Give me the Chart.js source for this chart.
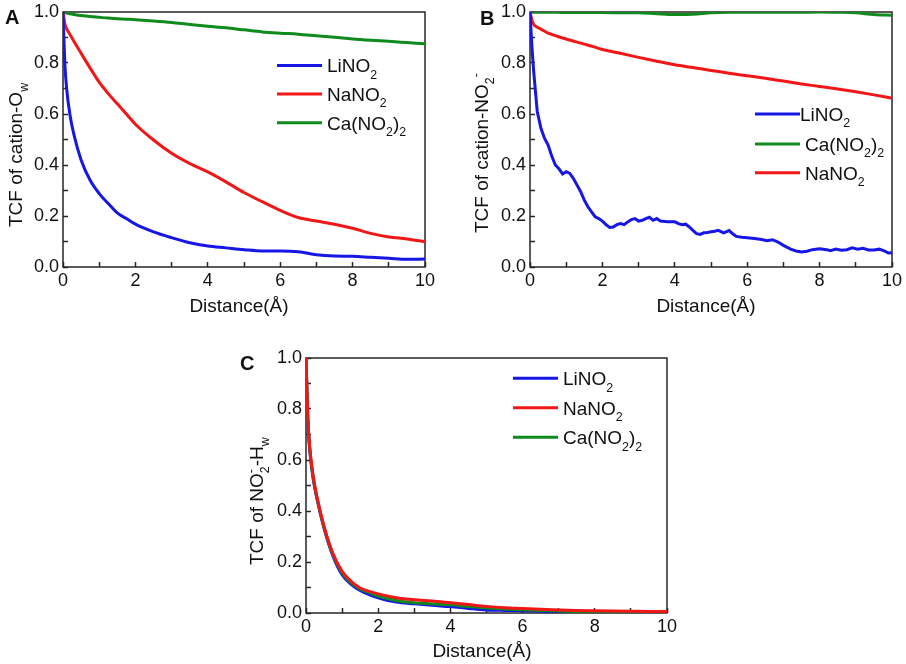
<!DOCTYPE html>
<html><head><meta charset="utf-8">
<script src="https://cdn.jsdelivr.net/npm/chart.js"></script>
<style>
html,body{margin:0;padding:0;background:#fff;width:906px;height:664px;overflow:hidden}
canvas{position:absolute}
</style></head><body>
<canvas id="cA" width="453" height="330" style="left:0;top:0"></canvas>
<canvas id="cB" width="453" height="330" style="left:453px;top:0"></canvas>
<canvas id="cC" width="470" height="334" style="left:220px;top:330px"></canvas>
<script>
// ---------- data ----------
const distance = [0, 0.05, 0.1, 0.2, 0.3, 0.5, 0.75, 1, 1.25, 1.5, 1.75, 2, 2.5, 3, 3.5, 4, 4.5, 5, 5.5, 6, 6.5, 7, 7.5, 8, 8.5, 9, 9.5, 10];

const seriesNamesA = ['LiNO₂', 'NaNO₂', 'Ca(NO₂)₂'];
const seriesNamesB = ['LiNO₂', 'Ca(NO₂)₂', 'NaNO₂'];
const seriesNamesC = ['LiNO₂', 'NaNO₂', 'Ca(NO₂)₂'];

const tcfA_LiNO2 = [1.0, 0.80, 0.70, 0.59, 0.52, 0.42, 0.34, 0.288, 0.249, 0.212, 0.19, 0.168, 0.138, 0.115, 0.095, 0.082, 0.075, 0.068, 0.063, 0.063, 0.06, 0.048, 0.043, 0.042, 0.038, 0.034, 0.030, 0.031];
const tcfA_NaNO2 = [1.0, 0.955, 0.935, 0.91, 0.885, 0.838, 0.78, 0.725, 0.68, 0.64, 0.60, 0.56, 0.498, 0.446, 0.406, 0.373, 0.334, 0.292, 0.256, 0.222, 0.194, 0.18, 0.168, 0.152, 0.132, 0.118, 0.110, 0.099];
const tcfA_CaNO22 = [1.0, 0.998, 0.996, 0.993, 0.99, 0.986, 0.982, 0.979, 0.976, 0.974, 0.972, 0.97, 0.965, 0.959, 0.951, 0.944, 0.938, 0.930, 0.922, 0.917, 0.913, 0.907, 0.901, 0.894, 0.889, 0.885, 0.880, 0.875];

const distB_LiNO2 = [0, 0.05, 0.1, 0.15, 0.2, 0.3, 0.4, 0.5, 0.6, 0.7, 0.8, 0.9, 1.0, 1.1, 1.2, 1.3, 1.4, 1.5, 1.6, 1.7, 1.8, 1.9, 2.0, 2.1, 2.2, 2.3, 2.4, 2.5, 2.6, 2.7, 2.8, 2.9, 3.0, 3.1, 3.2, 3.3, 3.4, 3.5, 3.6, 3.8, 4.0, 4.1, 4.2, 4.3, 4.4, 4.5, 4.6, 4.7, 4.8, 4.9, 5.0, 5.1, 5.2, 5.35, 5.5, 5.6, 5.7, 5.85, 6.0, 6.2, 6.4, 6.55, 6.7, 6.85, 7.0, 7.2, 7.35, 7.5, 7.65, 7.8, 8.0, 8.2, 8.3, 8.45, 8.6, 8.75, 8.9, 9.05, 9.2, 9.35, 9.5, 9.65, 9.8, 9.9, 10];
const tcfB_LiNO2 = [1.0, 0.87, 0.77, 0.69, 0.61, 0.545, 0.505, 0.478, 0.435, 0.40, 0.385, 0.365, 0.374, 0.367, 0.347, 0.321, 0.295, 0.262, 0.236, 0.216, 0.197, 0.19, 0.18, 0.166, 0.155, 0.157, 0.166, 0.17, 0.166, 0.177, 0.186, 0.19, 0.18, 0.183, 0.19, 0.195, 0.183, 0.19, 0.18, 0.177, 0.177, 0.17, 0.166, 0.168, 0.157, 0.144, 0.131, 0.128, 0.134, 0.135, 0.138, 0.14, 0.144, 0.134, 0.143, 0.13, 0.12, 0.117, 0.115, 0.112, 0.108, 0.103, 0.107, 0.098, 0.085, 0.070, 0.063, 0.059, 0.062, 0.068, 0.072, 0.068, 0.064, 0.07, 0.066, 0.068, 0.075, 0.07, 0.073, 0.067, 0.067, 0.07, 0.062, 0.055, 0.056];
const tcfB_CaNO22 = [1.0, 1.0, 0.999, 0.999, 0.999, 0.999, 0.999, 0.998, 0.998, 0.998, 0.998, 0.998, 0.997, 0.997, 0.993, 0.99, 0.991, 0.997, 0.999, 0.999, 0.999, 0.999, 0.999, 1.0, 0.999, 0.997, 0.99, 0.987];
const tcfB_NaNO2 = [1.0, 0.97, 0.952, 0.94, 0.933, 0.917, 0.905, 0.894, 0.884, 0.874, 0.864, 0.853, 0.838, 0.822, 0.807, 0.793, 0.782, 0.771, 0.760, 0.750, 0.740, 0.729, 0.718, 0.708, 0.698, 0.687, 0.675, 0.662];

const tcfC_LiNO2 = [1.0, 0.76, 0.645, 0.525, 0.45, 0.332, 0.222, 0.15, 0.112, 0.088, 0.072, 0.06, 0.043, 0.036, 0.03, 0.025, 0.018, 0.012, 0.01, 0.009, 0.007, 0.005, 0.004, 0.004, 0.003, 0.003, 0.003, 0.003];
const tcfC_NaNO2 = [1.0, 0.77, 0.654, 0.536, 0.458, 0.34, 0.232, 0.163, 0.124, 0.098, 0.085, 0.075, 0.06, 0.052, 0.047, 0.04, 0.033, 0.026, 0.021, 0.018, 0.015, 0.012, 0.01, 0.009, 0.008, 0.007, 0.006, 0.006];
const tcfC_CaNO22 = [1.0, 0.765, 0.65, 0.53, 0.455, 0.336, 0.228, 0.157, 0.118, 0.094, 0.08, 0.066, 0.049, 0.04, 0.036, 0.032, 0.025, 0.02, 0.016, 0.013, 0.01, 0.008, 0.006, 0.005, 0.005, 0.004, 0.004, 0.004];

const xTickValues = [0, 2, 4, 6, 8, 10];
const xTickLabels = ['0', '2', '4', '6', '8', '10'];
const yTickValues = [0, 0.2, 0.4, 0.6, 0.8, 1.0];
const yTickLabels = ['0.0', '0.2', '0.4', '0.6', '0.8', '1.0'];
const xAxisTitle = 'Distance(Å)';
// rich text segments: [text, kind] kind: n normal, b subscript, p superscript, bs subscript stacked with next
const yTitleA = [['TCF of cation-O', 'n'], ['w', 'b']];
const yTitleB = [['TCF of cation-NO', 'n'], ['2', 'b'], ['-', 'p']];
const yTitleC = [['TCF of NO', 'n'], ['2', 'bs'], ['-', 'p'], ['-H', 'n'], ['w', 'b']];

// ---------- styling ----------
const FONT = '"Liberation Sans", Arial, Helvetica, sans-serif';
const AXIS = '#262626';
const BLUE = '#1616e6', RED = '#f21616', GREEN = '#0f8a1c';

function pts(xs, ys) { return xs.map((x, i) => ({x: x, y: ys[i]})); }
function labelSegs(s) {
  const out = [];
  for (const ch of s) {
    if (ch === '₂') out.push(['2', 'b']); else {
      if (out.length && out[out.length - 1][1] === 'n') out[out.length - 1][0] += ch; else out.push([ch, 'n']);
    }
  }
  return out;
}
function drawRich(ctx, segs, x, y, size, measureOnly) {
  let cx = x, stackW = null;
  for (const s of segs) {
    const k = s[1];
    const small = k !== 'n';
    const fs = small ? size * 0.65 : size;
    ctx.font = fs + 'px ' + FONT;
    const dy = (k === 'b' || k === 'bs') ? size * 0.34 : (k === 'p' ? -size * 0.40 : 0);
    const w = ctx.measureText(s[0]).width;
    if (!measureOnly) ctx.fillText(s[0], cx, y + dy);
    if (k === 'bs') { stackW = w; continue; }
    if (stackW !== null) { cx += Math.max(stackW, w); stackW = null; } else cx += w;
  }
  return cx - x;
}

function makeChart(id, spec) {
  const g = spec.geom;
  const decor = {
    id: 'decor_' + id,
    beforeDatasetsDraw(chart) {
      const {ctx, chartArea: a} = chart;
      ctx.save();
      ctx.strokeStyle = AXIS; ctx.lineWidth = 1.5;
      ctx.strokeRect(a.left, a.top, a.right - a.left, a.bottom - a.top);
      ctx.restore();
    },
    afterDraw(chart) {
      const ctx = chart.ctx;
      ctx.save();
      ctx.fillStyle = '#111';
      ctx.textAlign = 'left'; ctx.textBaseline = 'alphabetic';
      // legend
      const L = spec.legend;
      spec.datasets.forEach((d, i) => {
        const y = L.ys[i];
        ctx.strokeStyle = d.color; ctx.lineWidth = 3;
        ctx.beginPath(); ctx.moveTo(L.x1, y); ctx.lineTo(L.x2, y); ctx.stroke();
        ctx.fillStyle = '#111';
        drawRich(ctx, labelSegs(d.label), L.tx[i], y + 19 * 0.36, 19);
      });
      // y title (rotated)
      ctx.save();
      ctx.translate(spec.ytitle.bx, spec.ytitle.y0);
      ctx.rotate(-Math.PI / 2);
      drawRich(ctx, spec.ytitle.segs, 0, 0, 19);
      ctx.restore();
      // x title
      ctx.font = '19px ' + FONT;
      ctx.textAlign = 'center';
      ctx.fillText(xAxisTitle, spec.xtitle.cx, spec.xtitle.by);
      // panel letter
      ctx.font = 'bold 20px ' + FONT;
      ctx.textAlign = 'left';
      ctx.fillText(spec.letter.t, spec.letter.x, spec.letter.y);
      ctx.restore();
    }
  };
  const fit = (dim, val) => (s) => { s[dim] = val; s.paddingLeft = 0; s.paddingRight = 0; s.paddingTop = 0; s.paddingBottom = 0; };
  const gridOpts = { drawOnChartArea: false, drawTicks: true, tickLength: -5, tickWidth: 1.5, tickColor: AXIS };
  return new Chart(document.getElementById(id), {
    type: 'line',
    data: {
      datasets: spec.datasets.map(d => ({
        label: d.label, data: d.data, borderColor: d.color, backgroundColor: d.color,
        borderWidth: 3, pointRadius: 0, fill: false, order: d.order,
        tension: d.jagged ? 0 : 0.4, cubicInterpolationMode: d.jagged ? 'default' : 'monotone'
      }))
    },
    options: {
      responsive: false, animation: false, events: [],
      layout: { padding: { left: 0, bottom: 0, top: g.padTop, right: g.padRight } },
      plugins: { legend: { display: false }, tooltip: { enabled: false }, title: { display: false } },
      scales: {
        x: {
          type: 'linear', min: 0, max: 10,
          ticks: { stepSize: 1, autoSkip: false, maxRotation: 0, padding: 8, color: '#111',
            font: { family: FONT, size: 18 },
            callback: (v) => { const i = xTickValues.findIndex(t => Math.abs(t - v) < 1e-6); return i >= 0 ? xTickLabels[i] : ''; } },
          grid: gridOpts, border: { display: false }, afterFit: fit('height', g.xH)
        },
        y: {
          type: 'linear', min: 0, max: 1,
          ticks: { stepSize: 0.1, autoSkip: false, padding: 9, color: '#111',
            font: { family: FONT, size: 18 },
            callback: (v) => { const i = yTickValues.findIndex(t => Math.abs(t - v) < 1e-6); return i >= 0 ? yTickLabels[i] : ''; } },
          grid: gridOpts, border: { display: false }, afterFit: fit('width', g.yW)
        }
      }
    },
    plugins: [decor]
  });
}

makeChart('cA', {
  geom: { yW: 63, xH: 63, padTop: 12, padRight: 28 },
  datasets: [
    { label: seriesNamesA[0], data: pts(distance, tcfA_LiNO2), color: BLUE, order: 0 },
    { label: seriesNamesA[1], data: pts(distance, tcfA_NaNO2), color: RED, order: 1 },
    { label: seriesNamesA[2], data: pts(distance, tcfA_CaNO22), color: GREEN, order: 2 }
  ],
  legend: { x1: 277, x2: 322, tx: [327, 327, 327], ys: [65.5, 94, 122.7] },
  ytitle: { bx: 21.5, y0: 227, segs: yTitleA },
  xtitle: { cx: 239, by: 311.5 },
  letter: { t: 'A', x: 5, y: 24 }
});

makeChart('cB', {
  geom: { yW: 77, xH: 63, padTop: 12, padRight: 14 },
  datasets: [
    { label: seriesNamesB[0], data: pts(distB_LiNO2, tcfB_LiNO2), color: BLUE, order: 0, jagged: true },
    { label: seriesNamesB[1], data: pts(distance, tcfB_CaNO22), color: GREEN, order: 1 },
    { label: seriesNamesB[2], data: pts(distance, tcfB_NaNO2), color: RED, order: 2 }
  ],
  legend: { x1: 302, x2: 347, tx: [347, 352, 352], ys: [114, 144, 172.7] },
  ytitle: { bx: 35, y0: 233, segs: yTitleB },
  xtitle: { cx: 253, by: 311.5 },
  letter: { t: 'B', x: 27, y: 25 }
});

makeChart('cC', {
  geom: { yW: 86, xH: 51, padTop: 28, padRight: 23 },
  datasets: [
    { label: seriesNamesC[0], data: pts(distance, tcfC_LiNO2), color: BLUE, order: 2 },
    { label: seriesNamesC[1], data: pts(distance, tcfC_NaNO2), color: RED, order: 0 },
    { label: seriesNamesC[2], data: pts(distance, tcfC_CaNO22), color: GREEN, order: 1 }
  ],
  legend: { x1: 293, x2: 338, tx: [343, 343, 343], ys: [48.3, 77.7, 107.3] },
  ytitle: { bx: 42.5, y0: 235, segs: yTitleC },
  xtitle: { cx: 262, by: 326.5 },
  letter: { t: 'C', x: 20, y: 39.5 }
});
</script>
</body></html>
